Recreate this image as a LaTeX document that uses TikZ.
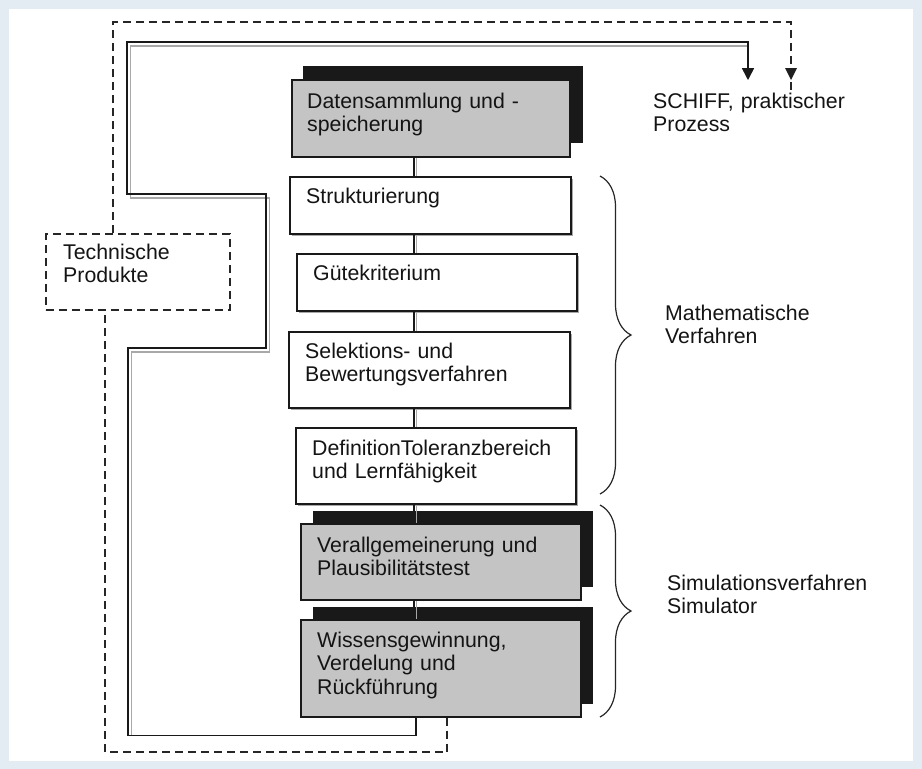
\documentclass[tikz,border=0pt]{standalone}
\usepackage{fontspec}
\setmainfont{Liberation Sans}
\usetikzlibrary{decorations.pathreplacing,arrows.meta}
\definecolor{frameblue}{HTML}{E3EBF3}
\definecolor{boxgray}{HTML}{C4C4C4}
\definecolor{shadegray}{HTML}{A8A8A8}
\begin{document}
\begin{tikzpicture}[x=1pt,y=-1pt,
  txt/.style={anchor=base west, inner sep=0pt, text width=270pt, align=left,
    font=\fontsize{21.3}{23.5}\selectfont, text=black!92},
  wbox/.style={draw=black!90, line width=1.5pt, fill=white, inner sep=0pt, anchor=north west},
  gbox/.style={wbox, fill=boxgray},
  wshadow/.style={fill=shadegray, draw=none},
  bshadow/.style={fill=black!90, draw=none},
  link/.style={draw=black!90, line width=1.6pt},
  linkshade/.style={draw=shadegray, line width=1.5pt},
  dashline/.style={draw=black!85, line width=1.5pt, dash pattern=on 8pt off 5pt},
  tip/.style={-{Triangle[length=12pt,width=12pt]}},
  bracestyle/.style={draw=black!85, line width=1.2pt, decorate, decoration={brace, amplitude=31pt}}
]
% background
\fill[frameblue] (0,0) rectangle (922,769);
\fill[white] (9,9) rectangle (913,761);
\useasboundingbox (0,0) rectangle (922,769);

% spine coordinate
\coordinate (spine) at (414,0);

% ---------- shadows ----------
\fill[bshadow] (303,66) rectangle (583,143);
\fill[wshadow] (292,179) rectangle (573,236);
\fill[wshadow] (299,256) rectangle (579,313);
\fill[wshadow] (291,334) rectangle (572,410);
\fill[wshadow] (298,430) rectangle (578,506);
\fill[bshadow] (313,511) rectangle (593,587);
\fill[bshadow] (313,607) rectangle (593,704);

% ---------- boxes ----------
\node[gbox, minimum width=278pt, minimum height=77pt] (dat) at (291,79) {};
\node[wbox, minimum width=281pt, minimum height=57pt] (str) at (289,176) {};
\node[wbox, minimum width=280pt, minimum height=57pt] (gue) at (296,253) {};
\node[wbox, minimum width=281pt, minimum height=76pt] (sel) at (288,331) {};
\node[wbox, minimum width=280pt, minimum height=76pt] (def) at (295,427) {};
\node[gbox, minimum width=280pt, minimum height=76pt] (ver) at (300,523) {};
\node[gbox, minimum width=280pt, minimum height=97pt] (wis) at (300,619) {};
\node[draw=black!85, line width=1.5pt, dash pattern=on 8pt off 5pt, inner sep=0pt,
      anchor=north west, minimum width=184pt, minimum height=76pt] (tp) at (45,233) {};

% ---------- box texts ----------
\node[txt] (datT) at ([xshift=16pt,yshift=-29pt]dat.north west) {Datensammlung und -\\speicherung};
\node[txt] (strT) at ([xshift=17pt,yshift=-27pt]str.north west) {Strukturierung};
\node[txt] (gueT) at ([xshift=17pt,yshift=-27pt]gue.north west) {Gütekriterium};
\node[txt] (selT) at ([xshift=17pt,yshift=-27pt]sel.north west) {Selektions- und\\Bewertungsverfahren};
\node[txt] (defT) at ([xshift=17pt,yshift=-28pt]def.north west) {DefinitionToleranzbereich\\und Lernfähigkeit};
\node[txt] (verT) at ([xshift=17pt,yshift=-29pt]ver.north west) {Verallgemeinerung und\\Plausibilitätstest};
\node[txt] (wisT) at ([xshift=17pt,yshift=-28pt]wis.north west) {Wissensgewinnung,\\Verdelung und\\Rückführung};
\node[txt] (tpT) at ([xshift=18pt,yshift=-26pt]tp.north west) {Technische\\Produkte};

% ---------- outside labels ----------
\node[txt] (schiff) at (653,108) {SCHIFF, praktischer\\Prozess};
\node[txt] (math) at (665,320) {Mathematische\\Verfahren};
\node[txt] (sim) at (667,590) {Simulationsverfahren\\Simulator};

% ---------- spine connectors ----------
\foreach \a/\b in {dat/str, str/gue, gue/sel, sel/def, def/ver, ver/wis}{
  \draw[linkshade] ([xshift=2.5pt]\a.south -| spine) -- ([xshift=2.5pt]\b.north -| spine);
  \draw[link] (\a.south -| spine) -- (\b.north -| spine);
}

% ---------- solid feedback loop ----------
\coordinate (sT) at (748,80);
\begin{scope}[shift={(3.5,4)}]
\draw[linkshade, tip, shadegray] ([xshift=2pt]wis.south -| spine) -- ++(0,18) -| (128,348) -| (266,194) -| (127,42) -| (sT);
\end{scope}
\draw[link, tip] ([xshift=2pt]wis.south -| spine) -- ++(0,18) -| (128,348) -| (266,194) -| (127,42) -| (sT);

% ---------- dashed loop ----------
\coordinate (dT) at (791,80);
\draw[dashline] (wis.south -| 447,0) -- (447,752) -| (tp.south -| 105,0);
\draw[dashline] (tp.north -| 113,0) -- (113,22) -| ([yshift=-11pt]dT);
\fill[black!88] (dT) -- ++(-6,-12) -- ++(12,0) -- cycle;

% ---------- braces ----------
\draw[bracestyle] (600,176) -- (600,494);
\draw[bracestyle] (600,505) -- (600,717);
\end{tikzpicture}
\end{document}
